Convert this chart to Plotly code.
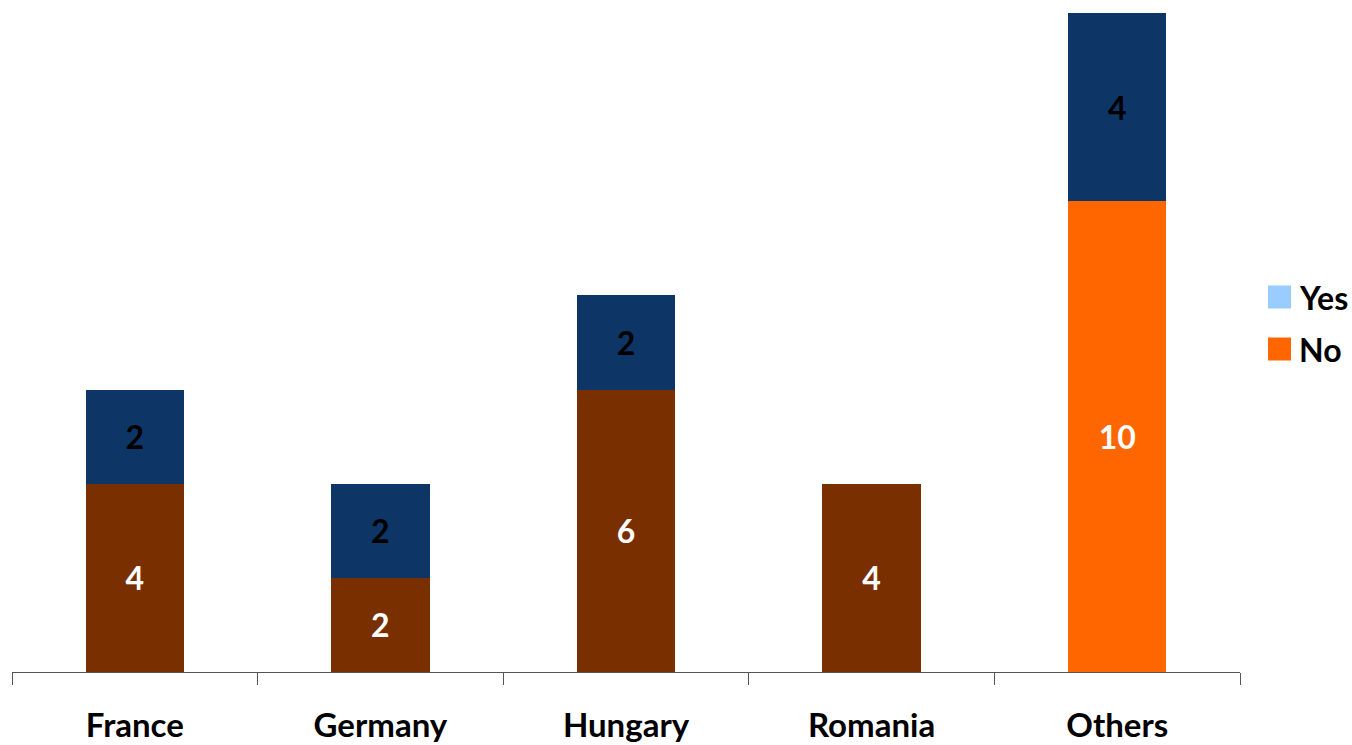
import plotly.graph_objects as go

categories = ["France", "Germany", "Hungary", "Romania", "Others"]
no_values = [4, 2, 6, 4, 10]
yes_values = [2, 2, 2, 0, 4]
no_colors = ["#7A2F00", "#7A2F00", "#7A2F00", "#7A2F00", "#FF6600"]
yes_bar_color = "#0D3566"
legend_items = [("Yes", "#99CCFF"), ("No", "#FF6600")]

FONT = "Lato, 'Open Sans', sans-serif"

fig = go.Figure()
fig.add_trace(go.Bar(
    x=categories, y=no_values, name="No",
    marker=dict(color=no_colors, line=dict(width=0)),
    text=[str(v) if v else "" for v in no_values],
    textposition="inside", insidetextanchor="middle",
    textfont=dict(family=FONT, size=32, color="white", weight="bold"),
    textangle=0, showlegend=False, hoverinfo="x+y+name",
))
fig.add_trace(go.Bar(
    x=categories, y=[v if v else None for v in yes_values], name="Yes",
    marker=dict(color=yes_bar_color, line=dict(width=0)),
    text=[str(v) if v else "" for v in yes_values],
    textposition="inside", insidetextanchor="middle",
    textfont=dict(family=FONT, size=32, color="black", weight="bold"),
    textangle=0, showlegend=False, hoverinfo="x+y+name",
))

# manual legend
shapes = []
annotations = []
W, H = 1352, 745
for i, (label, col) in enumerate(legend_items):
    yc = 297 + i * 52
    shapes.append(dict(type="rect", xref="paper", yref="paper",
                       x0=(1268 - 12) / (1240 - 12), x1=(1291 - 12) / (1240 - 12),
                       y0=(672 - (yc + 11.5)) / (672 - 13), y1=(672 - (yc - 11.5)) / (672 - 13),
                       fillcolor=col, line=dict(width=0)))
    annotations.append(dict(xref="paper", yref="paper",
                            x=(1297 - 12) / (1240 - 12), y=(672 - yc) / (672 - 13),
                            xanchor="left", yanchor="middle", showarrow=False,
                            text=label, font=dict(family=FONT, size=32, color="black", weight="bold")))

fig.update_layout(
    barmode="stack", bargap=0.6,
    width=W, height=H,
    margin=dict(l=12, r=112, t=13, b=73, autoexpand=False),
    paper_bgcolor="white", plot_bgcolor="white",
    showlegend=False,
    shapes=shapes, annotations=annotations,
    uniformtext=dict(mode=False),
)
fig.update_xaxes(
    showline=True, linecolor="#555555", linewidth=1.3,
    ticks="outside", tickson="boundaries", ticklen=12, tickcolor="#555555", tickwidth=1.3,
    tickfont=dict(family=FONT, size=33, color="black", weight="bold"),
    ticklabelstandoff=24,
    showgrid=False, zeroline=False,
)
fig.update_yaxes(range=[0, 14], visible=False, showgrid=False, zeroline=False)

fig.write_html("out.html")
